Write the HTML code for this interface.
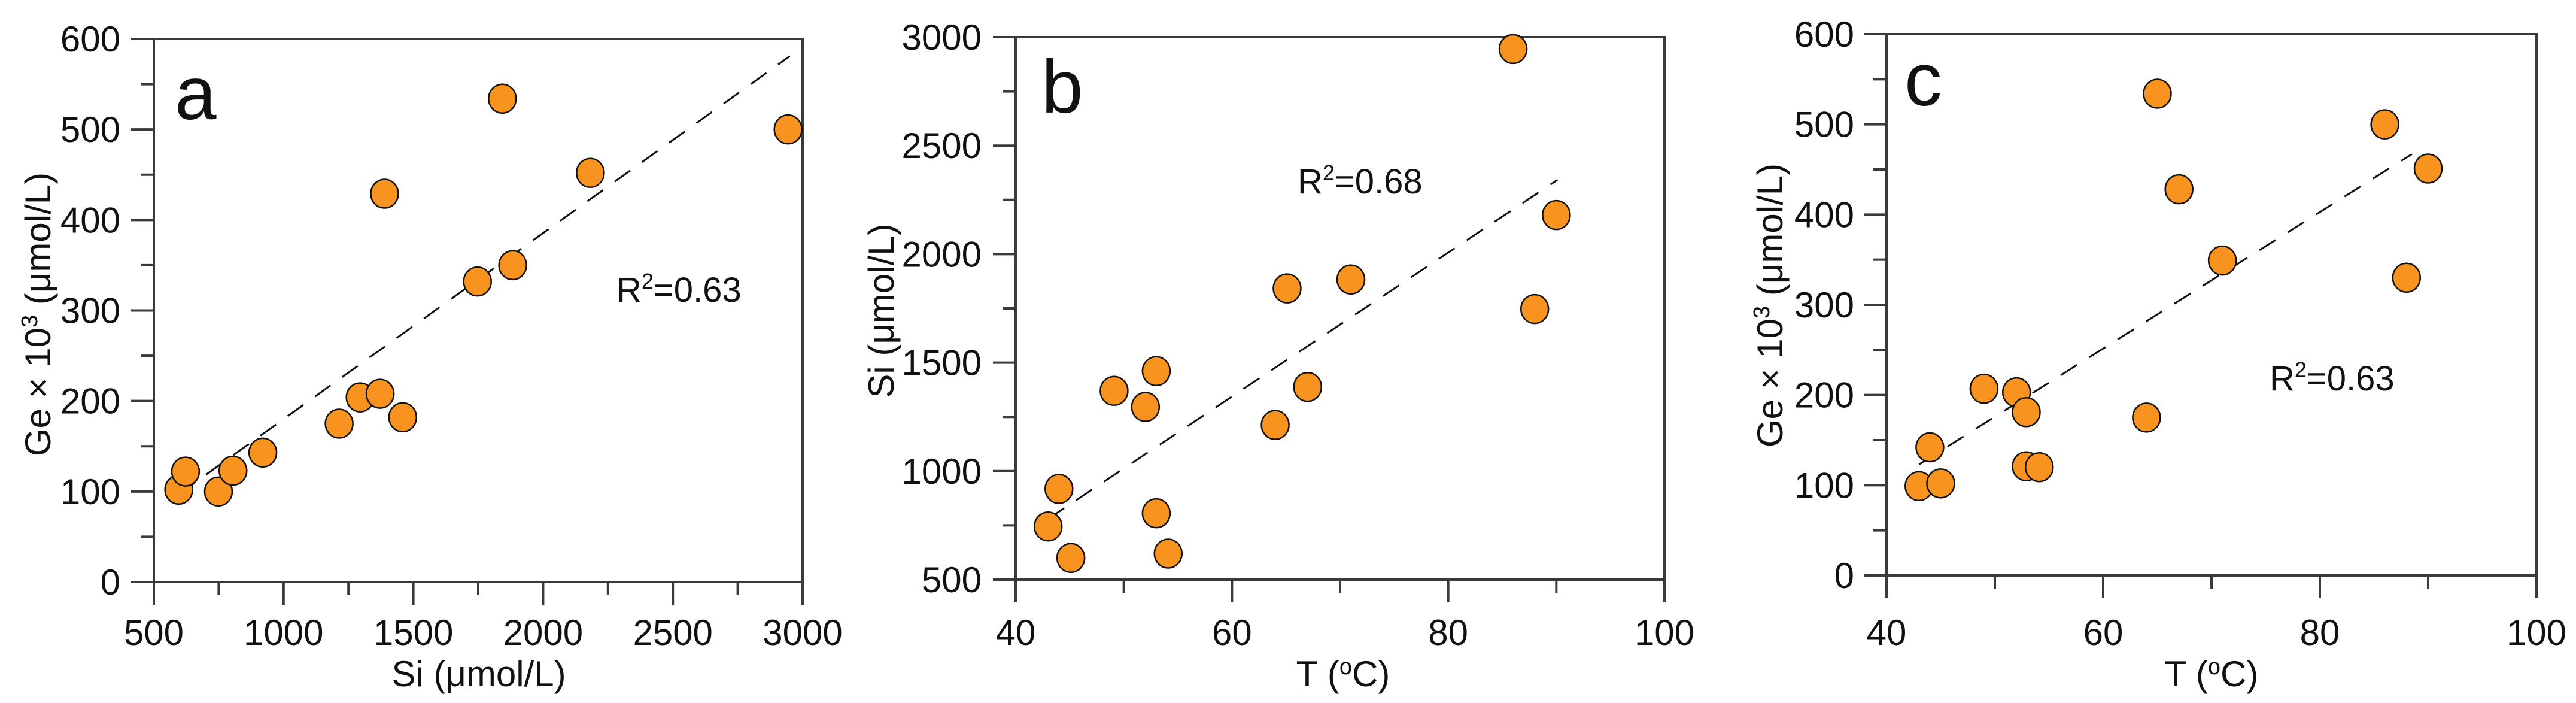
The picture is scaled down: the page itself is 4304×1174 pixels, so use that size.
<!DOCTYPE html>
<html><head><meta charset="utf-8"><style>
html,body{margin:0;padding:0;background:#fff;}
svg{display:block;font-family:"Liberation Sans",Arial,sans-serif;}
</style></head><body>
<svg id="fig" width="4304" height="1174" viewBox="0 0 4304 1174" xmlns="http://www.w3.org/2000/svg"></svg>
<script>
// Panel a: Si vs Ge
const aSi = [596,622,749,805,920,1214,1295,1372,1459,1389,1747,1883,1843,2182,2944];
const aGe = [102,122,100,123,143,175,204,208,182,429,332,350,534,452,500];
const aTrendX = [596,2951];
const aTrendY = [97,581];
const aXTicks = [500,1000,1500,2000,2500,3000];
const aYTicks = [0,100,200,300,400,500,600];
// Panel b: T vs Si
const bT = [43,44,45.1,49.1,52,53,53,54.1,64,65.1,67,71,86,88,90];
const bSi = [745,918,600,1370,1296,1461,806,620,1213,1842,1388,1883,2945,1747,2180];
const bTrendX = [43,90.1];
const bTrendY = [780,2342];
const bXTicks = [40,60,80,100];
const bYTicks = [500,1000,1500,2000,2500,3000];
// Panel c: T vs Ge
const cT = [43,45,44,49,52,52.9,52.9,54.1,64,65,67,71,86,88,90];
const cGe = [99,102,142,207,203,181,121,120,175,534,428,349,500,330,451];
const cTrendX = [43,88.5];
const cTrendY = [123,467];
const cXTicks = [40,60,80,100];
const cYTicks = [0,100,200,300,400,500,600];

const NS="http://www.w3.org/2000/svg";
const svg=document.getElementById('fig');
function mk(tag,attrs,parent){const e=document.createElementNS(NS,tag);for(const k in attrs)e.setAttribute(k,attrs[k]);(parent||svg).appendChild(e);return e;}

function panel(cfg){
  const g=mk('g',{});
  
  
  const sx=v=>cfg.L+(v-cfg.x0)/(cfg.x1-cfg.x0)*(cfg.R-cfg.L);
  const sy=v=>cfg.B-(v-cfg.y0)/(cfg.y1-cfg.y0)*(cfg.B-cfg.T);
  const fr=mk('rect',{x:cfg.L,y:cfg.T,width:cfg.R-cfg.L,height:cfg.B-cfg.T,fill:'none',stroke:'#3a3a3a','stroke-width':4},g);
  
  
  const xt=cfg.xt;
  for(let i=0;i<xt.length;i++){
    const x=sx(xt[i]);
    const t=mk('line',{x1:x,x2:x,y1:cfg.B,y2:cfg.B+38,stroke:'#3a3a3a','stroke-width':4},g);
    
    
    const lb=mk('text',{x:x,y:1077,'font-size':60,'text-anchor':'middle',fill:'#111'},g);
    lb.textContent=xt[i];
    
    
    if(i<xt.length-1){
      const xm=sx((xt[i]+xt[i+1])/2);
      const m=mk('line',{x1:xm,x2:xm,y1:cfg.B,y2:cfg.B+22,stroke:'#3a3a3a','stroke-width':4},g);
      
      
    }
  }
  const yt=cfg.yt;
  for(let i=0;i<yt.length;i++){
    const y=sy(yt[i]);
    const t=mk('line',{x1:cfg.L-38,x2:cfg.L,y1:y,y2:y,stroke:'#3a3a3a','stroke-width':4},g);
    
    
    const lb=mk('text',{x:cfg.ylx,y:y+21,'font-size':60,'text-anchor':'end',fill:'#111'},g);
    lb.textContent=yt[i];
    
    
    if(i<yt.length-1){
      const ym=sy((yt[i]+yt[i+1])/2);
      const m=mk('line',{x1:cfg.L-22,x2:cfg.L,y1:ym,y2:ym,stroke:'#3a3a3a','stroke-width':4},g);
      
      
    }
  }
  const tl=mk('line',{x1:sx(cfg.tx[0]),y1:sy(cfg.ty[0]),x2:sx(cfg.tx[1]),y2:sy(cfg.ty[1]),stroke:'#111','stroke-width':3,'stroke-dasharray':'32 24'},g);
  
  
  for(let i=0;i<cfg.xs.length;i++){
    const c=mk('ellipse',{cx:sx(cfg.xs[i]),cy:sy(cfg.ys[i]),rx:23,ry:24,fill:'#f7931e',stroke:'#111','stroke-width':2.5},g);
    
    
  }
  const pl=mk('text',{x:cfg.lx,y:cfg.ly,'font-size':125,fill:'#111'},g);
  pl.textContent=cfg.id;
  
  
  const r=mk('text',{x:cfg.rx,y:cfg.ry,'font-size':58,fill:'#111'},g);
  r.innerHTML='R<tspan font-size="36" dy="-22">2</tspan><tspan dy="22">='+cfg.r2+'</tspan>';
  
  
  const xtl=mk('text',{x:cfg.xtx,y:1146,'font-size':60,'text-anchor':'middle',fill:'#111'},g);
  xtl.innerHTML=cfg.xtitle;
  
  
  const ytl=mk('text',{x:0,y:0,'font-size':60,'text-anchor':'middle',fill:'#111',transform:'translate('+(cfg.ytx+21)+','+cfg.yty+') rotate(-90)'},g);
  ytl.innerHTML=cfg.ytitle;
  
  
}
const geTitle='Ge × 10<tspan font-size="38" dy="-22">3</tspan><tspan dy="22"> (μmol/L)</tspan>';
const tTitle='T (<tspan font-size="38" dy="-20">o</tspan><tspan dy="20">C)</tspan>';
panel({id:'a',L:257,R:1341,T:65,B:972,x0:500,x1:3000,y0:0,y1:600,xt:aXTicks,yt:aYTicks,xs:aSi,ys:aGe,tx:aTrendX,ty:aTrendY,
  lx:292,ly:199,rx:1030,ry:504,r2:'0.63',ylx:201,xtx:800,ytx:63,yty:525,xtitle:'Si (μmol/L)',ytitle:geTitle});
panel({id:'b',L:1697,R:2781,T:62,B:968,x0:40,x1:100,y0:500,y1:3000,xt:bXTicks,yt:bYTicks,xs:bT,ys:bSi,tx:bTrendX,ty:bTrendY,
  lx:1740,ly:188,rx:2168,ry:323,r2:'0.68',ylx:1640,xtx:2244,ytx:1472,yty:519,xtitle:tTitle,ytitle:'Si (μmol/L)'});
panel({id:'c',L:3152,R:4238,T:57,B:961,x0:40,x1:100,y0:0,y1:600,xt:cXTicks,yt:cYTicks,xs:cT,ys:cGe,tx:cTrendX,ty:cTrendY,
  lx:3182,ly:176,rx:3792,ry:652,r2:'0.63',ylx:3098,xtx:3695,ytx:2957,yty:510,xtitle:tTitle,ytitle:geTitle});
</script>
</body></html>
